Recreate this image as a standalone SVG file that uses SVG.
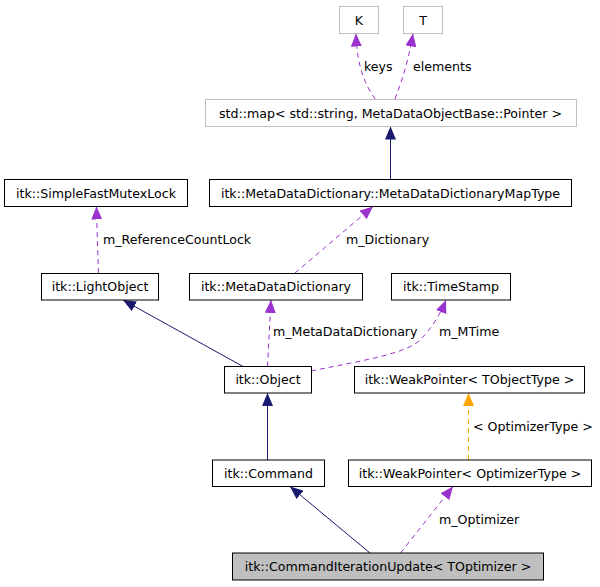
<svg xmlns="http://www.w3.org/2000/svg" width="600" height="587" viewBox="0 0 600 587">
<style>
text{font-family:"DejaVu Sans","Liberation Sans",sans-serif;font-size:12.6px;fill:#000}
.n rect{fill:#fff;stroke:#000;stroke-width:1}
.g rect{fill:#fff;stroke:#bfbfbf;stroke-width:1}
.n text,.g text,.f text{text-anchor:middle}
.f rect{fill:#bfbfbf;stroke:#000;stroke-width:1}
.e{fill:none;stroke-width:1}
.inh{stroke:#191970;marker-end:url(#an)}
.use{stroke:#9a32cd;stroke-dasharray:5,4;marker-end:url(#ap)}
.tpl{stroke:#ffa500;stroke-dasharray:5,4;marker-end:url(#ao)}
</style>
<defs>
<marker id="an" viewBox="0 0 13 11" refX="13" refY="5.5" markerWidth="13" markerHeight="11" markerUnits="userSpaceOnUse" orient="auto"><path d="M0,0L13,5.5L0,11z" fill="#191970"/></marker>
<marker id="ap" viewBox="0 0 13 11" refX="13" refY="5.5" markerWidth="13" markerHeight="11" markerUnits="userSpaceOnUse" orient="auto"><path d="M0,0L13,5.5L0,11z" fill="#9a32cd"/></marker>
<marker id="ao" viewBox="0 0 13 11" refX="13" refY="5.5" markerWidth="13" markerHeight="11" markerUnits="userSpaceOnUse" orient="auto"><path d="M0,0L13,5.5L0,11z" fill="#ffa500"/></marker>
</defs>
<rect width="600" height="587" fill="#fff"/>
<g id="edges">
<path class="e use" d="M375,99 C367,87 357,70 356,33.5"/>
<path class="e use" d="M395,99 C400,86 408,64 413,33.5"/>
<path class="e inh" d="M390.5,180 L390.5,126.5"/>
<path class="e use" d="M98.5,273 C98,258 97,232 96.5,206.5"/>
<path class="e use" d="M295,273 L373,206.5"/>
<path class="e inh" d="M243,366.5 L123,300"/>
<path class="e use" d="M267.5,366.5 L271,300"/>
<path class="e use" d="M311,371 C365,360 405,354 420,340 C431,329 440,315 446,300"/>
<path class="e inh" d="M267.5,460 L267.5,393"/>
<path class="e tpl" d="M468.5,460 L468.5,393"/>
<path class="e inh" d="M370,553 L290,486.5"/>
<path class="e use" d="M400.5,553 L453,486.5"/>
<text x="364" y="71">keys</text>
<text x="413" y="71">elements</text>
<text x="103" y="244">m_ReferenceCountLock</text>
<text x="346" y="244">m_Dictionary</text>
<text x="273" y="336">m_MetaDataDictionary</text>
<text x="439" y="336">m_MTime</text>
<text x="473" y="431">&lt; OptimizerType &gt;</text>
<text x="439" y="524">m_Optimizer</text>
</g>
<g id="K" class="g"><rect x="339.5" y="6.5" width="39" height="27"/><text x="359" y="24.5">K</text></g>
<g id="T" class="g"><rect x="403.5" y="6.5" width="39" height="27"/><text x="423" y="24.5">T</text></g>
<g id="stdmap" class="g"><rect x="205.5" y="99.5" width="371" height="27"/><text x="390.5" y="117.5">std::map&lt; std::string, MetaDataObjectBase::Pointer &gt;</text></g>
<g id="SimpleFastMutexLock" class="n"><rect x="4.5" y="179.5" width="183" height="27"/><text x="96" y="197.5">itk::SimpleFastMutexLock</text></g>
<g id="MapType" class="n"><rect x="209.5" y="179.5" width="362" height="27"/><text x="390.5" y="197.5">itk::MetaDataDictionary::MetaDataDictionaryMapType</text></g>
<g id="LightObject" class="n"><rect x="41.5" y="273.5" width="117" height="26.5"/><text x="100" y="291">itk::LightObject</text></g>
<g id="MetaDataDictionary" class="n"><rect x="189.5" y="273.5" width="173" height="26.5"/><text x="276" y="291">itk::MetaDataDictionary</text></g>
<g id="TimeStamp" class="n"><rect x="391.5" y="273.5" width="119" height="26.5"/><text x="451" y="291">itk::TimeStamp</text></g>
<g id="Object" class="n"><rect x="224.5" y="366.5" width="87" height="26.5"/><text x="268" y="384">itk::Object</text></g>
<g id="WeakPointerTObjectType" class="n"><rect x="354.5" y="366.5" width="230" height="26.5"/><text x="469.5" y="384">itk::WeakPointer&lt; TObjectType &gt;</text></g>
<g id="Command" class="n"><rect x="212.5" y="460" width="112" height="26.5"/><text x="268.5" y="477.5">itk::Command</text></g>
<g id="WeakPointerOptimizerType" class="n"><rect x="348.5" y="460" width="243" height="26.5"/><text x="470" y="477.5">itk::WeakPointer&lt; OptimizerType &gt;</text></g>
<g id="CommandIterationUpdate" class="f"><rect x="232.5" y="553" width="311" height="27"/><text x="388" y="571">itk::CommandIterationUpdate&lt; TOptimizer &gt;</text></g>
</svg>
